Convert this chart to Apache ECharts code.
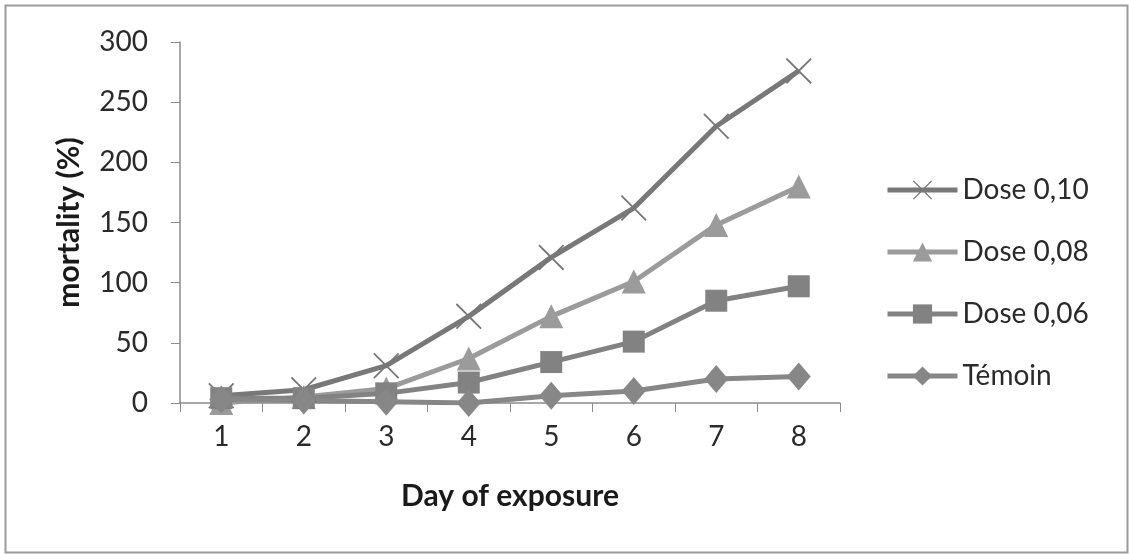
<!DOCTYPE html>
<html>
<head>
<meta charset="utf-8">
<script src="https://cdn.jsdelivr.net/npm/echarts@6/dist/echarts.min.js"></script>
<style>
html,body{margin:0;padding:0;background:#fff;}
#c{width:1129px;height:554px;}
</style>
</head>
<body>
<div id="c"></div>
<script>
const days = ['1','2','3','4','5','6','7','8'];
const seriesNames = ['Dose 0,10','Dose 0,08','Dose 0,06','Témoin'];
const dose010 = [6, 11, 31, 72, 121, 162, 230, 276];
const dose008 = [0, 5, 12, 37, 72, 101, 148, 180];
const dose006 = [4, 4, 8, 17, 34, 51, 85, 97];
const temoin  = [3, 2, 1, 0, 6, 10, 20, 22];
const yTicks = {min: 0, max: 300, interval: 50};

const crossPath = 'path://M0,5 L5,0 L50,45 L95,0 L100,5 L55,50 L100,95 L95,100 L50,55 L5,100 L0,95 L45,50 Z';
const font = 'Lato, "Open Sans", sans-serif';

const styles = [
  {data: dose010, color: '#787878', symbol: crossPath, size: 26},
  {data: dose008, color: '#9b9b9b', symbol: 'triangle', size: 24},
  {data: dose006, color: '#828282', symbol: 'rect', size: 22},
  {data: temoin,  color: '#878787', symbol: 'diamond', size: [24, 28]}
];

const chart = echarts.init(document.getElementById('c'), null, {renderer: 'canvas'});
chart.setOption({
  backgroundColor: '#ffffff',
  animation: false,
  graphic: [{
    type: 'rect', left: 3, top: 3,
    shape: {width: 1122, height: 547},
    style: {fill: 'none', stroke: '#9a9a9a', lineWidth: 2}
  }],
  grid: {left: 180, top: 42, width: 660, height: 361, containLabel: false},
  legend: {
    orient: 'vertical', left: 880, top: 171,
    itemWidth: 70, itemHeight: 24, itemGap: 34,
    data: seriesNames,
    lineStyle: {width: 5},
    textStyle: {fontFamily: font, fontSize: 28, lineHeight: 24, color: '#2a2a2a'}
  },
  xAxis: {
    type: 'category', data: days, boundaryGap: true,
    name: 'Day of exposure', nameLocation: 'middle', nameGap: 78,
    nameTextStyle: {fontFamily: font, fontSize: 30, fontWeight: 'bold', color: '#1a1a1a'},
    axisLine: {lineStyle: {color: '#8a8a8a', width: 1.5}},
    axisTick: {show: true, length: 9, lineStyle: {color: '#8a8a8a'}},
    axisLabel: {fontFamily: font, fontSize: 28, color: '#2a2a2a', margin: 20}
  },
  yAxis: {
    type: 'value', min: yTicks.min, max: yTicks.max, interval: yTicks.interval,
    name: 'mortality (%)', nameLocation: 'middle', nameGap: 96, nameRotate: 90,
    nameTextStyle: {fontFamily: font, fontSize: 30, fontWeight: 'bold', color: '#1a1a1a'},
    axisLine: {show: true, lineStyle: {color: '#8a8a8a', width: 1.5}},
    axisTick: {show: true, length: 9, lineStyle: {color: '#8a8a8a'}},
    splitLine: {show: false},
    axisLabel: {fontFamily: font, fontSize: 28, color: '#2a2a2a', margin: 32}
  },
  series: seriesNames.map((n, i) => ({
    name: n, type: 'line', data: styles[i].data,
    symbol: styles[i].symbol, symbolSize: styles[i].size,
    showAllSymbol: true,
    lineStyle: {color: styles[i].color, width: 5},
    itemStyle: {color: styles[i].color},
    emphasis: {disabled: true}
  }))
});
</script>
</body>
</html>
